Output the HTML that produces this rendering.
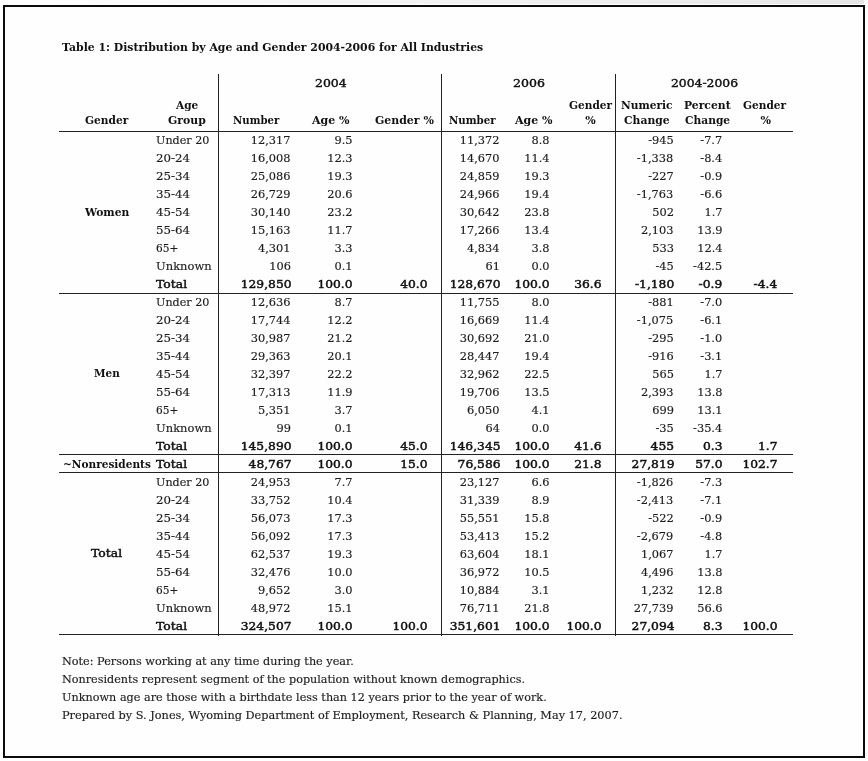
<!DOCTYPE html>
<html lang="en">
<head>
<meta charset="utf-8">
<title>Table 1: Distribution by Age and Gender 2004-2006 for All Industries</title>
<style>
html,body{margin:0;padding:0;background:#fff;}
body{width:868px;height:761px;position:relative;overflow:hidden;font-family:"DejaVu Serif","Liberation Serif",serif;color:#1c1c1c;}
.t{position:absolute;margin:0;padding:0;display:block;font-weight:normal;white-space:nowrap;height:18px;line-height:18px;font-size:11px;-webkit-text-stroke:0.15px #1c1c1c;transform-origin:0 0;}
.r{transform-origin:100% 0;}
.b{font-weight:bold;color:#111;-webkit-text-stroke:0;}
.s{color:#111;-webkit-text-stroke:0.45px #111;}
.y{color:#111;-webkit-text-stroke:0.4px #111;}
.l{position:absolute;background:#222;}
.strip{position:absolute;left:0;top:0;width:864px;height:4px;background:linear-gradient(to right,#fff,#e6e6e6);}
.frame{position:absolute;left:3px;top:5px;width:862px;height:753px;border:2px solid #0c0b0c;box-sizing:border-box;background:#fefefe;}
</style>
</head>
<body>
<div class="strip"></div>
<div class="frame"></div>
<main>
<h1 class="t b" style="top:39px;left:62px;transform:scaleX(0.9859);">Table 1: Distribution by Age and Gender 2004-2006 for All Industries</h1>
<div role="table" aria-label="Distribution by Age and Gender 2004-2006 for All Industries">
<div role="row">
<span role="columnheader" class="t y" style="top:75px;left:314.75px;transform:scaleX(1.1335);">2004</span>
<span role="columnheader" class="t y" style="top:75px;left:512.98px;transform:scaleX(1.1408);">2006</span>
<span role="columnheader" class="t y" style="top:75px;left:671.35px;transform:scaleX(1.1221);">2004-2006</span>
<span role="columnheader" class="t b" style="top:97px;left:176px;transform:scaleX(0.958);">Age</span>
<span role="columnheader" class="t b" style="top:112px;left:168.19px;transform:scaleX(0.9875);">Group</span>
<span role="columnheader" class="t b" style="top:112px;left:85.05px;transform:scaleX(0.9651);">Gender</span>
<span role="columnheader" class="t b" style="top:112px;left:232.78px;transform:scaleX(0.9223);">Number</span>
<span role="columnheader" class="t b" style="top:112px;left:312px;">Age %</span>
<span role="columnheader" class="t b" style="top:112px;left:375.3px;transform:scaleX(0.9935);">Gender %</span>
<span role="columnheader" class="t b" style="top:112px;left:448.58px;transform:scaleX(0.9303);">Number</span>
<span role="columnheader" class="t b" style="top:112px;left:515px;">Age %</span>
<span role="columnheader" class="t b" style="top:97px;left:568.55px;transform:scaleX(0.9584);">Gender</span>
<span role="columnheader" class="t b" style="top:112px;left:585.23px;">%</span>
<span role="columnheader" class="t b" style="top:97px;left:620.78px;transform:scaleX(0.9663);">Numeric</span>
<span role="columnheader" class="t b" style="top:112px;left:623.65px;transform:scaleX(0.9806);">Change</span>
<span role="columnheader" class="t b" style="top:97px;left:683.78px;transform:scaleX(0.9805);">Percent</span>
<span role="columnheader" class="t b" style="top:112px;left:684.53px;transform:scaleX(0.9689);">Change</span>
<span role="columnheader" class="t b" style="top:97px;left:743.25px;transform:scaleX(0.9584);">Gender</span>
<span role="columnheader" class="t b" style="top:112px;left:760.52px;">%</span>
</div>
<div role="row">
<span role="rowheader" class="t" style="top:132px;left:156px;transform:scaleX(1.0146);">Under 20</span>
<span role="cell" class="t r" style="top:132px;right:577.5px;transform:scaleX(1.033);">12,317</span>
<span role="cell" class="t r" style="top:132px;right:515.28px;transform:scaleX(1.033);">9.5</span>
<span role="cell" class="t r" style="top:132px;right:368.5px;transform:scaleX(1.033);">11,372</span>
<span role="cell" class="t r" style="top:132px;right:319px;transform:scaleX(1.033);">8.8</span>
<span role="cell" class="t r" style="top:132px;right:194.36px;transform:scaleX(1.033);">-945</span>
<span role="cell" class="t r" style="top:132px;right:145.73px;transform:scaleX(1.033);">-7.7</span>
</div>
<div role="row">
<span role="rowheader" class="t" style="top:150px;left:156.1px;transform:scaleX(1.0737);">20-24</span>
<span role="cell" class="t r" style="top:150px;right:577.5px;transform:scaleX(1.033);">16,008</span>
<span role="cell" class="t r" style="top:150px;right:515.28px;transform:scaleX(1.033);">12.3</span>
<span role="cell" class="t r" style="top:150px;right:368.5px;transform:scaleX(1.033);">14,670</span>
<span role="cell" class="t r" style="top:150px;right:319px;transform:scaleX(1.033);">11.4</span>
<span role="cell" class="t r" style="top:150px;right:194.36px;transform:scaleX(1.033);">-1,338</span>
<span role="cell" class="t r" style="top:150px;right:145.73px;transform:scaleX(1.033);">-8.4</span>
</div>
<div role="row">
<span role="rowheader" class="t" style="top:168px;left:156.1px;transform:scaleX(1.0737);">25-34</span>
<span role="cell" class="t r" style="top:168px;right:577.5px;transform:scaleX(1.033);">25,086</span>
<span role="cell" class="t r" style="top:168px;right:515.28px;transform:scaleX(1.033);">19.3</span>
<span role="cell" class="t r" style="top:168px;right:368.5px;transform:scaleX(1.033);">24,859</span>
<span role="cell" class="t r" style="top:168px;right:319px;transform:scaleX(1.033);">19.3</span>
<span role="cell" class="t r" style="top:168px;right:194.36px;transform:scaleX(1.033);">-227</span>
<span role="cell" class="t r" style="top:168px;right:145.73px;transform:scaleX(1.033);">-0.9</span>
</div>
<div role="row">
<span role="rowheader" class="t" style="top:186px;left:156.1px;transform:scaleX(1.0737);">35-44</span>
<span role="cell" class="t r" style="top:186px;right:577.5px;transform:scaleX(1.033);">26,729</span>
<span role="cell" class="t r" style="top:186px;right:515.28px;transform:scaleX(1.033);">20.6</span>
<span role="cell" class="t r" style="top:186px;right:368.5px;transform:scaleX(1.033);">24,966</span>
<span role="cell" class="t r" style="top:186px;right:319px;transform:scaleX(1.033);">19.4</span>
<span role="cell" class="t r" style="top:186px;right:194.36px;transform:scaleX(1.033);">-1,763</span>
<span role="cell" class="t r" style="top:186px;right:145.73px;transform:scaleX(1.033);">-6.6</span>
</div>
<div role="row">
<span role="rowheader" class="t b" style="top:204px;left:85.19px;transform:scaleX(0.9735);">Women</span>
<span role="rowheader" class="t" style="top:204px;left:156.1px;transform:scaleX(1.0737);">45-54</span>
<span role="cell" class="t r" style="top:204px;right:577.5px;transform:scaleX(1.033);">30,140</span>
<span role="cell" class="t r" style="top:204px;right:515.28px;transform:scaleX(1.033);">23.2</span>
<span role="cell" class="t r" style="top:204px;right:368.5px;transform:scaleX(1.033);">30,642</span>
<span role="cell" class="t r" style="top:204px;right:319px;transform:scaleX(1.033);">23.8</span>
<span role="cell" class="t r" style="top:204px;right:194.36px;transform:scaleX(1.033);">502</span>
<span role="cell" class="t r" style="top:204px;right:145.73px;transform:scaleX(1.033);">1.7</span>
</div>
<div role="row">
<span role="rowheader" class="t" style="top:222px;left:156.1px;transform:scaleX(1.0737);">55-64</span>
<span role="cell" class="t r" style="top:222px;right:577.5px;transform:scaleX(1.033);">15,163</span>
<span role="cell" class="t r" style="top:222px;right:515.28px;transform:scaleX(1.033);">11.7</span>
<span role="cell" class="t r" style="top:222px;right:368.5px;transform:scaleX(1.033);">17,266</span>
<span role="cell" class="t r" style="top:222px;right:319px;transform:scaleX(1.033);">13.4</span>
<span role="cell" class="t r" style="top:222px;right:194.36px;transform:scaleX(1.033);">2,103</span>
<span role="cell" class="t r" style="top:222px;right:145.73px;transform:scaleX(1.033);">13.9</span>
</div>
<div role="row">
<span role="rowheader" class="t" style="top:240px;left:155.56px;transform:scaleX(0.9601);">65+</span>
<span role="cell" class="t r" style="top:240px;right:577.5px;transform:scaleX(1.033);">4,301</span>
<span role="cell" class="t r" style="top:240px;right:515.28px;transform:scaleX(1.033);">3.3</span>
<span role="cell" class="t r" style="top:240px;right:368.5px;transform:scaleX(1.033);">4,834</span>
<span role="cell" class="t r" style="top:240px;right:319px;transform:scaleX(1.033);">3.8</span>
<span role="cell" class="t r" style="top:240px;right:194.36px;transform:scaleX(1.033);">533</span>
<span role="cell" class="t r" style="top:240px;right:145.73px;transform:scaleX(1.033);">12.4</span>
</div>
<div role="row">
<span role="rowheader" class="t" style="top:258px;left:156.09px;transform:scaleX(1.0472);">Unknown</span>
<span role="cell" class="t r" style="top:258px;right:577.5px;transform:scaleX(1.033);">106</span>
<span role="cell" class="t r" style="top:258px;right:515.28px;transform:scaleX(1.033);">0.1</span>
<span role="cell" class="t r" style="top:258px;right:368.5px;transform:scaleX(1.033);">61</span>
<span role="cell" class="t r" style="top:258px;right:319px;transform:scaleX(1.033);">0.0</span>
<span role="cell" class="t r" style="top:258px;right:194.36px;transform:scaleX(1.033);">-45</span>
<span role="cell" class="t r" style="top:258px;right:145.73px;transform:scaleX(1.033);">-42.5</span>
</div>
<div role="row">
<span role="rowheader" class="t s" style="top:276px;left:156.2px;transform:scaleX(1.1265);">Total</span>
<span role="cell" class="t s r" style="top:276px;right:576.5px;transform:scaleX(1.115);">129,850</span>
<span role="cell" class="t s r" style="top:276px;right:516px;transform:scaleX(1.115);">100.0</span>
<span role="cell" class="t s r" style="top:276px;right:441px;transform:scaleX(1.115);">40.0</span>
<span role="cell" class="t s r" style="top:276px;right:367.8px;transform:scaleX(1.115);">128,670</span>
<span role="cell" class="t s r" style="top:276px;right:319px;transform:scaleX(1.115);">100.0</span>
<span role="cell" class="t s r" style="top:276px;right:267px;transform:scaleX(1.115);">36.6</span>
<span role="cell" class="t s r" style="top:276px;right:194px;transform:scaleX(1.115);">-1,180</span>
<span role="cell" class="t s r" style="top:276px;right:145.5px;transform:scaleX(1.115);">-0.9</span>
<span role="cell" class="t s r" style="top:276px;right:90.5px;transform:scaleX(1.115);">-4.4</span>
</div>
<div role="row">
<span role="rowheader" class="t" style="top:294px;left:156px;transform:scaleX(1.0146);">Under 20</span>
<span role="cell" class="t r" style="top:294px;right:577.5px;transform:scaleX(1.033);">12,636</span>
<span role="cell" class="t r" style="top:294px;right:515.28px;transform:scaleX(1.033);">8.7</span>
<span role="cell" class="t r" style="top:294px;right:368.5px;transform:scaleX(1.033);">11,755</span>
<span role="cell" class="t r" style="top:294px;right:319px;transform:scaleX(1.033);">8.0</span>
<span role="cell" class="t r" style="top:294px;right:194.36px;transform:scaleX(1.033);">-881</span>
<span role="cell" class="t r" style="top:294px;right:145.73px;transform:scaleX(1.033);">-7.0</span>
</div>
<div role="row">
<span role="rowheader" class="t" style="top:312px;left:156.1px;transform:scaleX(1.0737);">20-24</span>
<span role="cell" class="t r" style="top:312px;right:577.5px;transform:scaleX(1.033);">17,744</span>
<span role="cell" class="t r" style="top:312px;right:515.28px;transform:scaleX(1.033);">12.2</span>
<span role="cell" class="t r" style="top:312px;right:368.5px;transform:scaleX(1.033);">16,669</span>
<span role="cell" class="t r" style="top:312px;right:319px;transform:scaleX(1.033);">11.4</span>
<span role="cell" class="t r" style="top:312px;right:194.36px;transform:scaleX(1.033);">-1,075</span>
<span role="cell" class="t r" style="top:312px;right:145.73px;transform:scaleX(1.033);">-6.1</span>
</div>
<div role="row">
<span role="rowheader" class="t" style="top:330px;left:156.1px;transform:scaleX(1.0737);">25-34</span>
<span role="cell" class="t r" style="top:330px;right:577.5px;transform:scaleX(1.033);">30,987</span>
<span role="cell" class="t r" style="top:330px;right:515.28px;transform:scaleX(1.033);">21.2</span>
<span role="cell" class="t r" style="top:330px;right:368.5px;transform:scaleX(1.033);">30,692</span>
<span role="cell" class="t r" style="top:330px;right:319px;transform:scaleX(1.033);">21.0</span>
<span role="cell" class="t r" style="top:330px;right:194.36px;transform:scaleX(1.033);">-295</span>
<span role="cell" class="t r" style="top:330px;right:145.73px;transform:scaleX(1.033);">-1.0</span>
</div>
<div role="row">
<span role="rowheader" class="t" style="top:348px;left:156.1px;transform:scaleX(1.0737);">35-44</span>
<span role="cell" class="t r" style="top:348px;right:577.5px;transform:scaleX(1.033);">29,363</span>
<span role="cell" class="t r" style="top:348px;right:515.28px;transform:scaleX(1.033);">20.1</span>
<span role="cell" class="t r" style="top:348px;right:368.5px;transform:scaleX(1.033);">28,447</span>
<span role="cell" class="t r" style="top:348px;right:319px;transform:scaleX(1.033);">19.4</span>
<span role="cell" class="t r" style="top:348px;right:194.36px;transform:scaleX(1.033);">-916</span>
<span role="cell" class="t r" style="top:348px;right:145.73px;transform:scaleX(1.033);">-3.1</span>
</div>
<div role="row">
<span role="rowheader" class="t b" style="top:365px;left:94.05px;transform:scaleX(0.9472);">Men</span>
<span role="rowheader" class="t" style="top:366px;left:156.1px;transform:scaleX(1.0737);">45-54</span>
<span role="cell" class="t r" style="top:366px;right:577.5px;transform:scaleX(1.033);">32,397</span>
<span role="cell" class="t r" style="top:366px;right:515.28px;transform:scaleX(1.033);">22.2</span>
<span role="cell" class="t r" style="top:366px;right:368.5px;transform:scaleX(1.033);">32,962</span>
<span role="cell" class="t r" style="top:366px;right:319px;transform:scaleX(1.033);">22.5</span>
<span role="cell" class="t r" style="top:366px;right:194.36px;transform:scaleX(1.033);">565</span>
<span role="cell" class="t r" style="top:366px;right:145.73px;transform:scaleX(1.033);">1.7</span>
</div>
<div role="row">
<span role="rowheader" class="t" style="top:384px;left:156.1px;transform:scaleX(1.0737);">55-64</span>
<span role="cell" class="t r" style="top:384px;right:577.5px;transform:scaleX(1.033);">17,313</span>
<span role="cell" class="t r" style="top:384px;right:515.28px;transform:scaleX(1.033);">11.9</span>
<span role="cell" class="t r" style="top:384px;right:368.5px;transform:scaleX(1.033);">19,706</span>
<span role="cell" class="t r" style="top:384px;right:319px;transform:scaleX(1.033);">13.5</span>
<span role="cell" class="t r" style="top:384px;right:194.36px;transform:scaleX(1.033);">2,393</span>
<span role="cell" class="t r" style="top:384px;right:145.73px;transform:scaleX(1.033);">13.8</span>
</div>
<div role="row">
<span role="rowheader" class="t" style="top:402px;left:155.56px;transform:scaleX(0.9601);">65+</span>
<span role="cell" class="t r" style="top:402px;right:577.5px;transform:scaleX(1.033);">5,351</span>
<span role="cell" class="t r" style="top:402px;right:515.28px;transform:scaleX(1.033);">3.7</span>
<span role="cell" class="t r" style="top:402px;right:368.5px;transform:scaleX(1.033);">6,050</span>
<span role="cell" class="t r" style="top:402px;right:319px;transform:scaleX(1.033);">4.1</span>
<span role="cell" class="t r" style="top:402px;right:194.36px;transform:scaleX(1.033);">699</span>
<span role="cell" class="t r" style="top:402px;right:145.73px;transform:scaleX(1.033);">13.1</span>
</div>
<div role="row">
<span role="rowheader" class="t" style="top:420px;left:156.09px;transform:scaleX(1.0472);">Unknown</span>
<span role="cell" class="t r" style="top:420px;right:577.5px;transform:scaleX(1.033);">99</span>
<span role="cell" class="t r" style="top:420px;right:515.28px;transform:scaleX(1.033);">0.1</span>
<span role="cell" class="t r" style="top:420px;right:368.5px;transform:scaleX(1.033);">64</span>
<span role="cell" class="t r" style="top:420px;right:319px;transform:scaleX(1.033);">0.0</span>
<span role="cell" class="t r" style="top:420px;right:194.36px;transform:scaleX(1.033);">-35</span>
<span role="cell" class="t r" style="top:420px;right:145.73px;transform:scaleX(1.033);">-35.4</span>
</div>
<div role="row">
<span role="rowheader" class="t s" style="top:438px;left:156.2px;transform:scaleX(1.1265);">Total</span>
<span role="cell" class="t s r" style="top:438px;right:576.5px;transform:scaleX(1.115);">145,890</span>
<span role="cell" class="t s r" style="top:438px;right:516px;transform:scaleX(1.115);">100.0</span>
<span role="cell" class="t s r" style="top:438px;right:441px;transform:scaleX(1.115);">45.0</span>
<span role="cell" class="t s r" style="top:438px;right:367.8px;transform:scaleX(1.115);">146,345</span>
<span role="cell" class="t s r" style="top:438px;right:319px;transform:scaleX(1.115);">100.0</span>
<span role="cell" class="t s r" style="top:438px;right:267px;transform:scaleX(1.115);">41.6</span>
<span role="cell" class="t s r" style="top:438px;right:194px;transform:scaleX(1.115);">455</span>
<span role="cell" class="t s r" style="top:438px;right:145.5px;transform:scaleX(1.115);">0.3</span>
<span role="cell" class="t s r" style="top:438px;right:90.5px;transform:scaleX(1.115);">1.7</span>
</div>
<div role="row">
<span role="rowheader" class="t b" style="top:456px;left:62.56px;transform:scaleX(0.9579);">~Nonresidents</span>
<span role="rowheader" class="t s" style="top:456px;left:156.2px;transform:scaleX(1.1265);">Total</span>
<span role="cell" class="t s r" style="top:456px;right:576.5px;transform:scaleX(1.115);">48,767</span>
<span role="cell" class="t s r" style="top:456px;right:516px;transform:scaleX(1.115);">100.0</span>
<span role="cell" class="t s r" style="top:456px;right:441px;transform:scaleX(1.115);">15.0</span>
<span role="cell" class="t s r" style="top:456px;right:367.8px;transform:scaleX(1.115);">76,586</span>
<span role="cell" class="t s r" style="top:456px;right:319px;transform:scaleX(1.115);">100.0</span>
<span role="cell" class="t s r" style="top:456px;right:267px;transform:scaleX(1.115);">21.8</span>
<span role="cell" class="t s r" style="top:456px;right:194px;transform:scaleX(1.115);">27,819</span>
<span role="cell" class="t s r" style="top:456px;right:145.5px;transform:scaleX(1.115);">57.0</span>
<span role="cell" class="t s r" style="top:456px;right:90.5px;transform:scaleX(1.115);">102.7</span>
</div>
<div role="row">
<span role="rowheader" class="t" style="top:474px;left:156px;transform:scaleX(1.0146);">Under 20</span>
<span role="cell" class="t r" style="top:474px;right:577.5px;transform:scaleX(1.033);">24,953</span>
<span role="cell" class="t r" style="top:474px;right:515.28px;transform:scaleX(1.033);">7.7</span>
<span role="cell" class="t r" style="top:474px;right:368.5px;transform:scaleX(1.033);">23,127</span>
<span role="cell" class="t r" style="top:474px;right:319px;transform:scaleX(1.033);">6.6</span>
<span role="cell" class="t r" style="top:474px;right:194.36px;transform:scaleX(1.033);">-1,826</span>
<span role="cell" class="t r" style="top:474px;right:145.73px;transform:scaleX(1.033);">-7.3</span>
</div>
<div role="row">
<span role="rowheader" class="t" style="top:492px;left:156.1px;transform:scaleX(1.0737);">20-24</span>
<span role="cell" class="t r" style="top:492px;right:577.5px;transform:scaleX(1.033);">33,752</span>
<span role="cell" class="t r" style="top:492px;right:515.28px;transform:scaleX(1.033);">10.4</span>
<span role="cell" class="t r" style="top:492px;right:368.5px;transform:scaleX(1.033);">31,339</span>
<span role="cell" class="t r" style="top:492px;right:319px;transform:scaleX(1.033);">8.9</span>
<span role="cell" class="t r" style="top:492px;right:194.36px;transform:scaleX(1.033);">-2,413</span>
<span role="cell" class="t r" style="top:492px;right:145.73px;transform:scaleX(1.033);">-7.1</span>
</div>
<div role="row">
<span role="rowheader" class="t" style="top:510px;left:156.1px;transform:scaleX(1.0737);">25-34</span>
<span role="cell" class="t r" style="top:510px;right:577.5px;transform:scaleX(1.033);">56,073</span>
<span role="cell" class="t r" style="top:510px;right:515.28px;transform:scaleX(1.033);">17.3</span>
<span role="cell" class="t r" style="top:510px;right:368.5px;transform:scaleX(1.033);">55,551</span>
<span role="cell" class="t r" style="top:510px;right:319px;transform:scaleX(1.033);">15.8</span>
<span role="cell" class="t r" style="top:510px;right:194.36px;transform:scaleX(1.033);">-522</span>
<span role="cell" class="t r" style="top:510px;right:145.73px;transform:scaleX(1.033);">-0.9</span>
</div>
<div role="row">
<span role="rowheader" class="t" style="top:528px;left:156.1px;transform:scaleX(1.0737);">35-44</span>
<span role="cell" class="t r" style="top:528px;right:577.5px;transform:scaleX(1.033);">56,092</span>
<span role="cell" class="t r" style="top:528px;right:515.28px;transform:scaleX(1.033);">17.3</span>
<span role="cell" class="t r" style="top:528px;right:368.5px;transform:scaleX(1.033);">53,413</span>
<span role="cell" class="t r" style="top:528px;right:319px;transform:scaleX(1.033);">15.2</span>
<span role="cell" class="t r" style="top:528px;right:194.36px;transform:scaleX(1.033);">-2,679</span>
<span role="cell" class="t r" style="top:528px;right:145.73px;transform:scaleX(1.033);">-4.8</span>
</div>
<div role="row">
<span role="rowheader" class="t s" style="top:545px;left:91px;transform:scaleX(1.1289);">Total</span>
<span role="rowheader" class="t" style="top:546px;left:156.1px;transform:scaleX(1.0737);">45-54</span>
<span role="cell" class="t r" style="top:546px;right:577.5px;transform:scaleX(1.033);">62,537</span>
<span role="cell" class="t r" style="top:546px;right:515.28px;transform:scaleX(1.033);">19.3</span>
<span role="cell" class="t r" style="top:546px;right:368.5px;transform:scaleX(1.033);">63,604</span>
<span role="cell" class="t r" style="top:546px;right:319px;transform:scaleX(1.033);">18.1</span>
<span role="cell" class="t r" style="top:546px;right:194.36px;transform:scaleX(1.033);">1,067</span>
<span role="cell" class="t r" style="top:546px;right:145.73px;transform:scaleX(1.033);">1.7</span>
</div>
<div role="row">
<span role="rowheader" class="t" style="top:564px;left:156.1px;transform:scaleX(1.0737);">55-64</span>
<span role="cell" class="t r" style="top:564px;right:577.5px;transform:scaleX(1.033);">32,476</span>
<span role="cell" class="t r" style="top:564px;right:515.28px;transform:scaleX(1.033);">10.0</span>
<span role="cell" class="t r" style="top:564px;right:368.5px;transform:scaleX(1.033);">36,972</span>
<span role="cell" class="t r" style="top:564px;right:319px;transform:scaleX(1.033);">10.5</span>
<span role="cell" class="t r" style="top:564px;right:194.36px;transform:scaleX(1.033);">4,496</span>
<span role="cell" class="t r" style="top:564px;right:145.73px;transform:scaleX(1.033);">13.8</span>
</div>
<div role="row">
<span role="rowheader" class="t" style="top:582px;left:155.56px;transform:scaleX(0.9601);">65+</span>
<span role="cell" class="t r" style="top:582px;right:577.5px;transform:scaleX(1.033);">9,652</span>
<span role="cell" class="t r" style="top:582px;right:515.28px;transform:scaleX(1.033);">3.0</span>
<span role="cell" class="t r" style="top:582px;right:368.5px;transform:scaleX(1.033);">10,884</span>
<span role="cell" class="t r" style="top:582px;right:319px;transform:scaleX(1.033);">3.1</span>
<span role="cell" class="t r" style="top:582px;right:194.36px;transform:scaleX(1.033);">1,232</span>
<span role="cell" class="t r" style="top:582px;right:145.73px;transform:scaleX(1.033);">12.8</span>
</div>
<div role="row">
<span role="rowheader" class="t" style="top:600px;left:156.09px;transform:scaleX(1.0472);">Unknown</span>
<span role="cell" class="t r" style="top:600px;right:577.5px;transform:scaleX(1.033);">48,972</span>
<span role="cell" class="t r" style="top:600px;right:515.28px;transform:scaleX(1.033);">15.1</span>
<span role="cell" class="t r" style="top:600px;right:368.5px;transform:scaleX(1.033);">76,711</span>
<span role="cell" class="t r" style="top:600px;right:319px;transform:scaleX(1.033);">21.8</span>
<span role="cell" class="t r" style="top:600px;right:194.36px;transform:scaleX(1.033);">27,739</span>
<span role="cell" class="t r" style="top:600px;right:145.73px;transform:scaleX(1.033);">56.6</span>
</div>
<div role="row">
<span role="rowheader" class="t s" style="top:618px;left:156.2px;transform:scaleX(1.1265);">Total</span>
<span role="cell" class="t s r" style="top:618px;right:576.5px;transform:scaleX(1.115);">324,507</span>
<span role="cell" class="t s r" style="top:618px;right:516px;transform:scaleX(1.115);">100.0</span>
<span role="cell" class="t s r" style="top:618px;right:441px;transform:scaleX(1.115);">100.0</span>
<span role="cell" class="t s r" style="top:618px;right:367.8px;transform:scaleX(1.115);">351,601</span>
<span role="cell" class="t s r" style="top:618px;right:319px;transform:scaleX(1.115);">100.0</span>
<span role="cell" class="t s r" style="top:618px;right:267px;transform:scaleX(1.115);">100.0</span>
<span role="cell" class="t s r" style="top:618px;right:194px;transform:scaleX(1.115);">27,094</span>
<span role="cell" class="t s r" style="top:618px;right:145.5px;transform:scaleX(1.115);">8.3</span>
<span role="cell" class="t s r" style="top:618px;right:90.5px;transform:scaleX(1.115);">100.0</span>
</div>
<div class="l" style="left:59px;top:131px;width:734px;height:1px"></div>
<div class="l" style="left:59px;top:293px;width:734px;height:1px"></div>
<div class="l" style="left:59px;top:454px;width:734px;height:1px"></div>
<div class="l" style="left:59px;top:472px;width:734px;height:1px"></div>
<div class="l" style="left:59px;top:634px;width:734px;height:1px"></div>
<div class="l" style="left:218px;top:74px;width:1px;height:562px"></div>
<div class="l" style="left:441px;top:74px;width:1px;height:562px"></div>
<div class="l" style="left:615px;top:74px;width:1px;height:562px"></div>
</div>
<p class="t n" style="top:653px;left:61.91px;transform:scaleX(1.021);">Note: Persons working at any time during the year.</p>
<p class="t n" style="top:671px;left:61.93px;transform:scaleX(1.0178);">Nonresidents represent segment of the population without known demographics.</p>
<p class="t n" style="top:689px;left:61.94px;transform:scaleX(1.0208);">Unknown age are those with a birthdate less than 12 years prior to the year of work.</p>
<p class="t n" style="top:707px;left:61.92px;transform:scaleX(1.0269);">Prepared by S. Jones, Wyoming Department of Employment, Research &amp; Planning, May 17, 2007.</p>
</main>
</body>
</html>
